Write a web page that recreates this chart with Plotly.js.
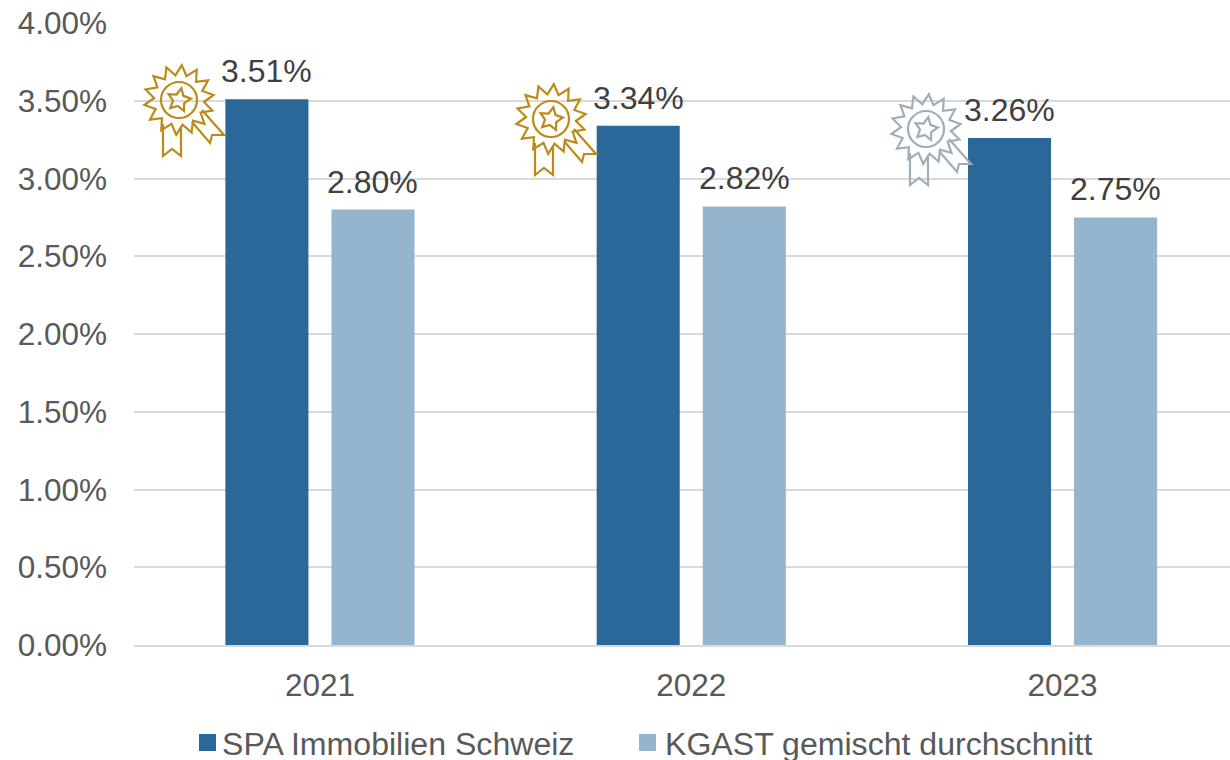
<!DOCTYPE html>
<html><head><meta charset="utf-8">
<script src="https://cdn.plot.ly/plotly-3.0.1.min.js"></script>
<style>html,body{margin:0;padding:0;background:#fff;overflow:hidden}#c{width:1230px;height:760px}</style>
</head><body><div id="c"></div>
<script>
const years = ['2021','2022','2023'];
const spa = [3.51,3.34,3.26];
const kgast = [2.80,2.82,2.75];
const seriesNames = ['SPA Immobilien Schweiz','KGAST gemischt durchschnitt'];
const seriesColors = ['#2A6899','#95B4CE'];
const yTicks = [0,0.5,1,1.5,2,2.5,3,3.5,4];
const medalColors = ['#BC8A17','#BC8A17','#9DAEBD'];
const medalCentersPx = [[179,100],[551,119],[926,129]];
const legendSwatchPx = [199,639];
const legendTextPx = [220,663];

const W=1230,H=760,L=134,T=23,B=645;
const px=v=>(v-L)/(W-L), py=v=>(B-v)/(B-T);
function medal(color){
  let pts=[];const n=14;
  for(let i=0;i<n*2;i++){const r=i%2?25:35;const a=-Math.PI/2+i*Math.PI/n+0.08;pts.push((r*Math.cos(a)).toFixed(1)+','+(r*Math.sin(a)).toFixed(1));}
  let star=[];
  for(let i=0;i<10;i++){const r=i%2?6:12;const a=-Math.PI/2+i*Math.PI/5+0.2;star.push((r*Math.cos(a)).toFixed(1)+','+(r*Math.sin(a)).toFixed(1));}
  const svg=`<svg xmlns="http://www.w3.org/2000/svg" width="90" height="100" viewBox="-40 -40 90 100"><g fill="none" stroke="${color}" stroke-width="2.2" stroke-linejoin="miter"><polygon points="${pts.join(' ')}"/><circle r="18"/><polygon points="${star.join(' ')}"/><polyline points="-16,24 -16,56 -7,49 2,56 2,26"/><polyline points="23,10 45,35 33,35 31,43 13,22"/></g></svg>`;
  return 'data:image/svg+xml;base64,'+btoa(svg);
}
const images=medalCentersPx.map((c,i)=>({source:medal(medalColors[i]),xref:'paper',yref:'paper',
  x:px(c[0]-40),y:py(c[1]-40),sizex:90/(W-L),sizey:100/(B-T),xanchor:'left',yanchor:'top',sizing:'stretch',layer:'above'}));
const pct=a=>a.map(v=>v.toFixed(2)+'%');
const mk=(y,name,col)=>({type:'bar',x:years,y,name,marker:{color:col},hoverinfo:'skip',showlegend:false});
const labelAnn=(vals,shift)=>vals.map((v,i)=>({x:i,y:v,xref:'x',yref:'y',text:v.toFixed(2)+'%',showarrow:false,
  xanchor:'center',yanchor:'bottom',xshift:shift,yshift:8,font:{family:'Liberation Sans',size:32,color:'#404040'}}));
const legendAnn=seriesNames.map((n,i)=>({xref:'paper',yref:'paper',x:px(legendTextPx[i]),y:py(744),text:n,showarrow:false,
  xanchor:'left',yanchor:'middle',font:{family:'Liberation Sans',size:32.1,color:'#595959'}}));
const legendShapes=seriesNames.map((n,i)=>({type:'rect',xref:'paper',yref:'paper',x0:px(legendSwatchPx[i]),x1:px(legendSwatchPx[i]+17),
  y0:py(751),y1:py(734),fillcolor:seriesColors[i],line:{width:0}}));
Plotly.newPlot('c',[mk(spa,seriesNames[0],seriesColors[0]),mk(kgast,seriesNames[1],seriesColors[1])],{
  width:W,height:H,margin:{l:L,r:0,t:T,b:H-B,pad:0},paper_bgcolor:'#fff',plot_bgcolor:'#fff',
  barmode:'group',bargap:0.4286,bargroupgap:0.217,showlegend:false,
  font:{family:'Liberation Sans',size:31.5,color:'#595959'},
  xaxis:{type:'category',range:[-0.5008,2.451],showgrid:false,zeroline:false,showline:true,linecolor:'#D9D9D9',linewidth:2,
    ticks:'',ticklabelstandoff:11,tickfont:{size:31.5,color:'#595959'}},
  yaxis:{range:[0,4],tickvals:yTicks,ticktext:pct(yTicks),gridcolor:'#D9D9D9',gridwidth:2,zeroline:false,showline:false,
    ticks:'',ticklabelstandoff:26,tickfont:{size:31.5,color:'#595959'}},
  annotations:[...labelAnn(spa,-53),...labelAnn(kgast,53),...legendAnn],
  shapes:legendShapes,images
},{displayModeBar:false,staticPlot:true});
</script></body></html>
